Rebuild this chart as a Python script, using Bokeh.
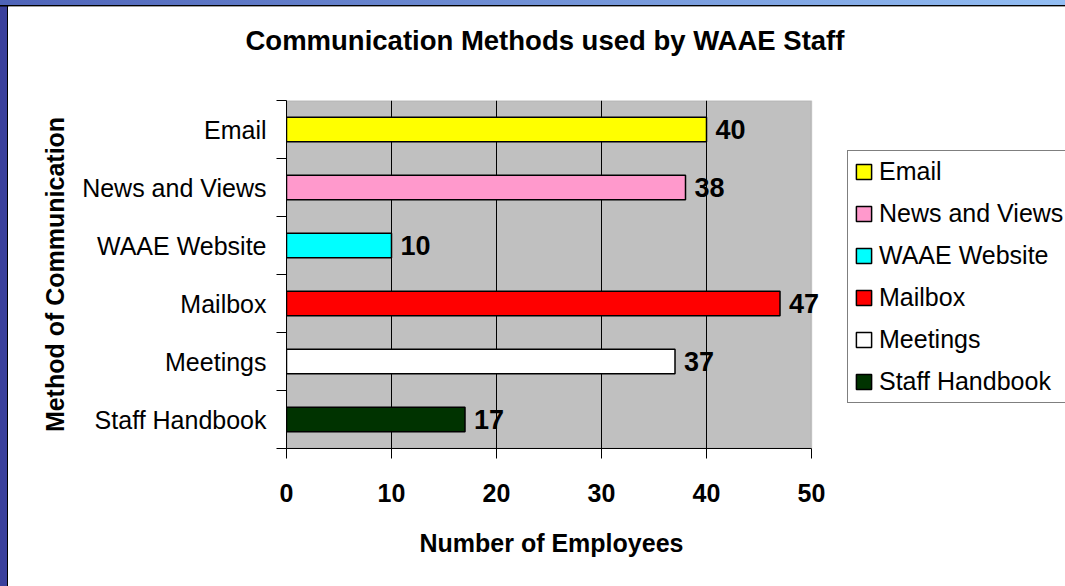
from bokeh.plotting import figure
from bokeh.models import (Range1d, FixedTicker, Legend, LegendItem, ColumnDataSource,
                          BoxAnnotation, LabelSet, GlobalInlineStyleSheet, Title)
from bokeh.core.properties import value
from bokeh.embed import file_html
from bokeh.resources import INLINE

# ---- data ----
categories = ["Email", "News and Views", "WAAE Website", "Mailbox", "Meetings", "Staff Handbook"]
counts = [40, 38, 10, 47, 37, 17]
colors = ["#FFFF00", "#FF99CC", "#00FFFF", "#FF0000", "#FFFFFF", "#003300"]
x_ticks = [0, 10, 20, 30, 40, 50]
grid_ticks = [10, 20, 30, 40]
x_max = 50
title_text = "Communication Methods used by WAAE Staff"
x_label = "Number of Employees"
y_label = "Method of Communication"

n = len(categories)
ypos = [n - i - 0.5 for i in range(n)]
bounds = list(range(n + 1))

FONT = "Liberation Sans"
OX, OY = 8, 6                 # offset of the figure on the page (frame strips)
W, H = 1065 - OX, 586 - OY
# screen positions of the gray plotting area (0..50); the frame runs to the right edge
GL, GR, GT, GB = 286, 811, 100, 448
FR = 1065
view_max = x_max * (FR - GL) / (GR - GL)

p = figure(width=W, height=H, output_backend="svg", toolbar_location=None,
           title_location=None,
           x_range=Range1d(0, view_max), y_range=Range1d(0, n),
           min_border_left=GL - OX, min_border_right=0,
           min_border_top=GT - OY, min_border_bottom=586 - GB,
           background_fill_color="white", border_fill_color="white")
p.styles = {"margin-left": "%dpx" % OX, "margin-top": "%dpx" % OY}
p.stylesheets = [GlobalInlineStyleSheet(css="""
html, body { margin: 0 !important; padding: 0 !important; overflow: hidden; }
body {
  background:
    linear-gradient(#000, #000) 0 5px / 100% 1.5px no-repeat,
    linear-gradient(to right, #4E63B8, #93BEF3) 0 0 / 100% 5px no-repeat,
    linear-gradient(to right, #3A409C 7px, #000 7px, #000 8px, transparent 8px) 0 0 / 8px 100% no-repeat,
    #ffffff !important;
}
""")]

# title (a spacer title keeps it well above the plotting area)
p.add_layout(Title(text=" ", text_font_size="10px", standoff=30), "above")
p.add_layout(Title(text=title_text, align="left", offset=245 - GL, text_font=FONT,
                   text_font_size="27.5px", text_font_style="bold", text_color="black",
                   standoff=4), "above")

p.outline_line_color = None

# gray plot area 0..50 with gray border
p.add_layout(BoxAnnotation(left=0, right=x_max, bottom=0, top=n, fill_color="#C0C0C0",
                           fill_alpha=1, line_color="#808080", line_width=1.5, level="image"))

# x axis
xa = p.xaxis[0]
xa.bounds = (0, x_max)
xa.ticker = FixedTicker(ticks=x_ticks)
xa.major_label_text_font = FONT
xa.major_label_text_font_size = "25px"
xa.major_label_text_font_style = "bold"
xa.major_label_text_color = "black"
xa.major_tick_out = 10
xa.major_tick_in = 0
xa.major_tick_line_color = "black"
xa.minor_tick_line_color = None
xa.axis_line_color = "black"
xa.major_label_standoff = 25

# x axis title, centred under the 0..50 span
p.add_layout(Title(text=x_label, align="left", offset=419 - GL, text_font=FONT,
                   text_font_size="25px", text_font_style="bold", text_color="black",
                   vertical_align="bottom", standoff=44), "below")

# y axis
ya = p.yaxis[0]
ya.ticker = FixedTicker(ticks=ypos, minor_ticks=bounds)
ya.major_label_overrides = {y: c for y, c in zip(ypos, categories)}
ya.major_label_text_font = FONT
ya.major_label_text_font_size = "25px"
ya.major_label_text_font_style = "normal"
ya.major_label_text_color = "black"
ya.major_tick_line_color = None
ya.major_tick_out = 0
ya.major_tick_in = 0
ya.minor_tick_line_color = "black"
ya.minor_tick_out = 10
ya.minor_tick_in = 0
ya.axis_line_color = "black"
ya.major_label_standoff = 10
ya.axis_label = y_label
ya.axis_label_text_font = FONT
ya.axis_label_text_font_size = "25px"
ya.axis_label_text_font_style = "bold"
ya.axis_label_text_color = "black"
ya.axis_label_standoff = 10

p.xgrid.ticker = FixedTicker(ticks=grid_ticks)
p.xgrid.grid_line_color = "black"
p.xgrid.grid_line_width = 1
p.ygrid.grid_line_color = None

src = ColumnDataSource(dict(y=ypos, right=counts, color=colors, cat=categories,
                            label=[str(c) for c in counts]))
bars = p.hbar(y="y", right="right", left=0, height=0.42, fill_color="color",
              line_color="black", line_width=1.5, source=src)

labels = LabelSet(x="right", y="y", text="label", x_offset=9, source=src,
                  text_baseline="middle", text_align="left", text_font=value(FONT),
                  text_font_size="27px", text_font_style="bold", text_color="black")
p.add_layout(labels)

items = [LegendItem(label=c, renderers=[bars], index=i) for i, c in enumerate(categories)]
legend = Legend(items=items, location=(847 - GL, GB - 403),
                glyph_width=19, glyph_height=19, label_standoff=6,
                label_text_font=FONT, label_text_font_size="25px", label_text_color="black",
                label_height=28, label_width=200, spacing=13, padding=6, margin=0,
                border_line_color="black", border_line_width=1,
                background_fill_color="white", background_fill_alpha=1)
p.add_layout(legend, "center")

open("out.html", "w").write(file_html(p, INLINE))
